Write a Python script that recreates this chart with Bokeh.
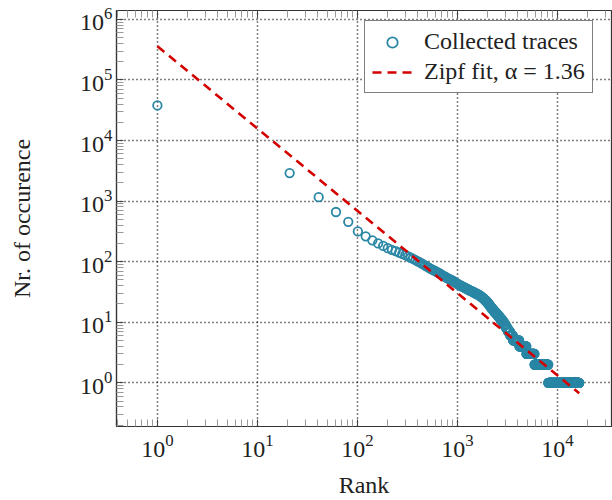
from bokeh.plotting import figure
from bokeh.models import (LogAxis, FixedTicker, Legend, LegendItem, ColumnDataSource,
                          CustomJSTickFormatter, LogTickFormatter)
from bokeh.embed import file_html
from bokeh.resources import INLINE

# ---- data ----
# every 20th rank is drawn: 1, 21, 41, ...
RANK_STEP = 20
# counts at the sampled ranks 1, 21, ..., 981 (head of the distribution)
head_counts = [38000, 2900, 1160, 660, 455, 315, 262, 225, 200, 182,
               167, 157, 149, 141, 134, 128, 122, 116, 111, 106,
               101, 97, 93, 89, 85, 82, 79, 76, 74, 72,
               70, 68, 66, 64, 62, 60, 58, 57, 56, 54,
               53, 52, 51, 50, 49, 48, 47, 46, 45, 44]
# tail: integer count level -> last rank that has this count
tail_levels = [43, 42, 41, 40, 39, 38, 37, 36, 35, 34, 33, 32, 31, 30, 29, 28,
               27, 26, 25, 24, 23, 22, 21, 20, 19, 18, 17, 16, 15, 14, 13, 12,
               11, 10, 9, 8, 7, 6, 5, 4, 3, 2, 1]
tail_last_rank = [1010, 1040, 1070, 1100, 1135, 1170, 1210, 1250, 1290, 1340,
                  1390, 1440, 1500, 1560, 1620, 1680, 1730, 1780, 1830, 1880,
                  1930, 1980, 2030, 2080, 2130, 2180, 2250, 2320, 2400, 2490,
                  2590, 2700, 2810, 2930, 3060, 3200, 3370, 3600, 4150, 4900,
                  5900, 8100, 16500]
# Zipf fit line (alpha = 1.36), end points
fit_rank = [1, 16500]
fit_count = [360000, 0.67]

x_major = [1, 10, 100, 1000, 10000]
y_major = [1, 10, 100, 1000, 10000, 100000, 1000000]

# ---- build the sampled series ----
ranks, counts = [], []
r = 1
for c in head_counts:
    ranks.append(r); counts.append(c); r += RANK_STEP
for c, last in zip(tail_levels, tail_last_rank):
    while r <= last:
        ranks.append(r); counts.append(c); r += RANK_STEP

def minors(lo, hi):
    out = []
    for e in range(lo, hi + 1):
        for m in range(2, 10):
            out.append(m * 10.0 ** e)
    return out

FONT = "Liberation Serif"
FS = "24px"

p = figure(width=612, height=500, x_axis_type="log", y_axis_type="log",
           x_range=(0.39, 34700), y_range=(0.19, 1.4e6),
           output_backend="svg", toolbar_location=None,
           min_border_left=116, min_border_right=1, min_border_top=10,
           min_border_bottom=72)

xt = FixedTicker(ticks=x_major, minor_ticks=minors(-1, 4))
yt = FixedTicker(ticks=y_major, minor_ticks=minors(-1, 6))

for ax, t in ((p.xaxis[0], xt), (p.yaxis[0], yt)):
    ax.ticker = t
    ax.formatter = LogTickFormatter()
    ax.major_label_text_font = FONT
    ax.major_label_text_font_size = FS
    ax.major_label_text_color = "#222222"
    ax.axis_label_text_font = FONT
    ax.axis_label_text_font_size = FS
    ax.axis_label_text_font_style = "normal"
    ax.axis_label_text_color = "#222222"
    ax.major_tick_in = 7
    ax.major_tick_out = 0
    ax.minor_tick_in = 7
    ax.minor_tick_out = 0
    ax.major_tick_line_color = "#444444"
    ax.minor_tick_line_color = "#999999"
    ax.axis_line_color = "#333333"
    ax.axis_line_width = 1.2

p.xaxis.axis_label = "Rank"
p.yaxis.axis_label = "Nr. of occurence"
p.xaxis.major_label_standoff = 8
p.yaxis.major_label_standoff = 4
p.xaxis.axis_label_standoff = 12
p.yaxis.axis_label_standoff = 42

top = LogAxis(ticker=FixedTicker(ticks=x_major, minor_ticks=minors(-1, 4)),
              formatter=CustomJSTickFormatter(code="return ''"),
              major_tick_in=7, major_tick_out=0,
              minor_tick_in=7, minor_tick_out=0, major_label_standoff=0,
              major_tick_line_color="#444444", minor_tick_line_color="#999999",
              axis_line_color="#333333", axis_line_width=1.2)
p.add_layout(top, "above")

p.xgrid.ticker = xt
p.ygrid.ticker = yt
for g in (p.xgrid[0], p.ygrid[0]):
    g.grid_line_color = "black"
    g.grid_line_dash = "1 3"
    g.grid_line_width = 1.5
    g.grid_line_alpha = 1.0

p.outline_line_color = "#333333"
p.outline_line_width = 1.2

src = ColumnDataSource(dict(rank=ranks, count=counts))
sc = p.scatter("rank", "count", source=src, marker="circle", size=8.5,
               fill_color=None, line_color="#2a87a5", line_width=1.8)
fl = p.line(fit_rank, fit_count, line_color="#d40000", line_width=2.6,
            line_dash="9 6")

legend = Legend(items=[LegendItem(label="Collected traces", renderers=[sc]),
                       LegendItem(label="Zipf fit, α = 1.36", renderers=[fl])],
                location=(248, 333))
legend.label_text_font = FONT
legend.label_text_font_size = FS
legend.label_text_color = "#222222"
legend.glyph_width = 40
legend.glyph_height = 26
legend.label_height = 26
legend.label_standoff = 12
legend.spacing = 3
legend.padding = 7
legend.margin = 0
legend.border_line_color = "black"
legend.border_line_width = 1.2
legend.background_fill_alpha = 1.0
p.add_layout(legend)

open("out.html", "w").write(file_html(p, INLINE))
